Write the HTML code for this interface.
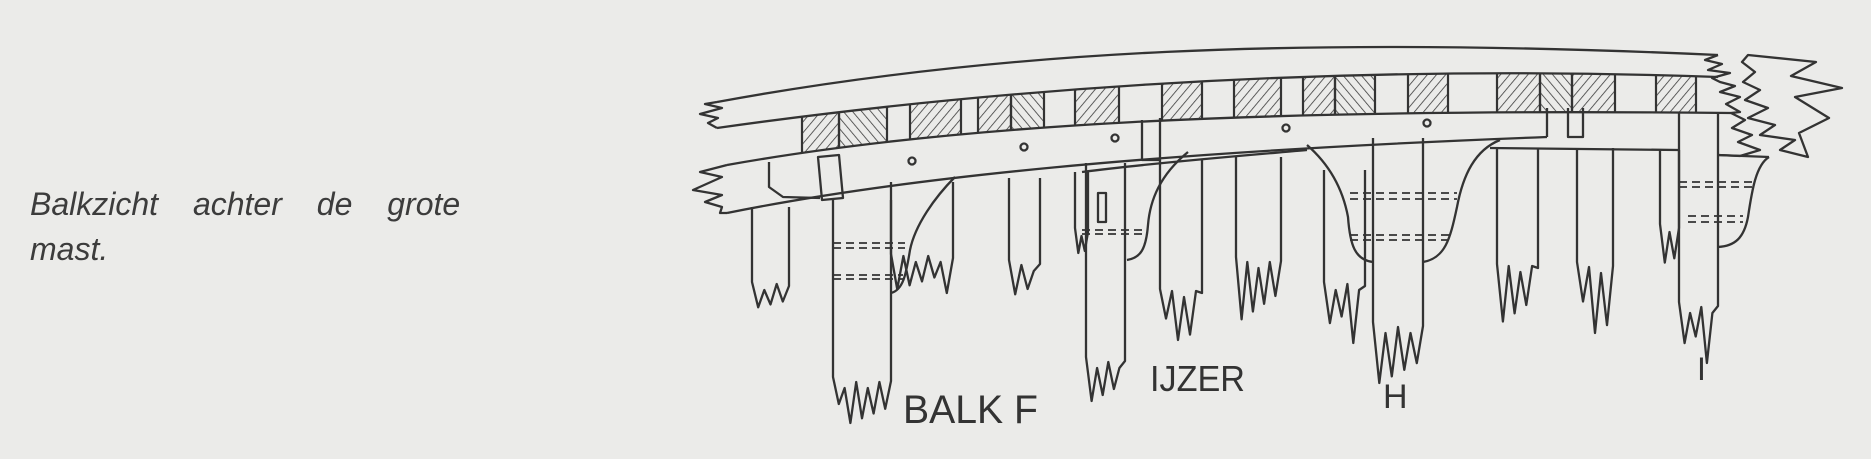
<!DOCTYPE html>
<html><head><meta charset="utf-8">
<style>
html,body{margin:0;padding:0;background:#ebebe9;}
svg{display:block;}
</style></head>
<body>
<svg id="s" width="1871" height="459" viewBox="0 0 1871 459" xmlns="http://www.w3.org/2000/svg">
<defs>
<pattern id="hf" patternUnits="userSpaceOnUse" width="7" height="7" patternTransform="rotate(40)">
<line x1="0" y1="0" x2="0" y2="7" stroke="#3a3a3a" stroke-width="1.6"/></pattern>
<pattern id="hb" patternUnits="userSpaceOnUse" width="7" height="7" patternTransform="rotate(-40)">
<line x1="0" y1="0" x2="0" y2="7" stroke="#3a3a3a" stroke-width="1.6"/></pattern>
<clipPath id="band"><path d="M717,128 C950,95 1300,62 1718,77 L1731,113 C1250,108 950,125 727,165 Z"/></clipPath>
</defs>
<rect width="1871" height="459" fill="#ebebe9"/>
<text x="30" y="215" font-family="Liberation Sans, sans-serif" font-style="italic" font-size="32" fill="#3c3c3c" word-spacing="26">Balkzicht achter de grote</text>
<text x="30" y="260" font-family="Liberation Sans, sans-serif" font-style="italic" font-size="32" fill="#3c3c3c">mast.</text>
<g id="blocks" clip-path="url(#band)" stroke="#333" stroke-width="2"></g>
<g id="g" fill="none" stroke="#333" stroke-width="2.3" stroke-linejoin="round">
<path d="M717,102 C1000,50 1300,36 1718,55"/>
<path d="M717,128 C950,95 1300,62 1718,77"/>
<path d="M727,165 C950,125 1250,108 1731,113"/>
<path d="M727,213 C900,178 1150,152 1547,137"/>
<path d="M1082,172 C1150,163 1250,155 1307,150"/>
<path d="M1490,148 L1679,150"/>
<path d="M717,102 L705,104 L722,108 L700,114 L718,118 L708,123 L717,128"/>
<path d="M727,165 L700,172 L722,177 L693,190 L722,195 L705,202 L722,207 L720,213 L727,213"/>
<path d="M769,162 L769,187 L783,197 L820,198"/>
<path d="M818,157 L839,155 L843,198 L822,200 Z"/>
<path d="M1142,120 L1142,160 L1160,160 L1160,118"/>
<path d="M1547,108 L1547,137 M1568,108 L1568,137 L1583,137 L1583,108"/>
<rect x="1098" y="193" width="8" height="29"/>
<circle cx="912" cy="161" r="3.5"/><circle cx="1024" cy="147" r="3.5"/><circle cx="1115" cy="138" r="3.5"/>
<circle cx="1286" cy="128" r="3.5"/><circle cx="1427" cy="123" r="3.5"/>
<path d="M955,177 C935,197 915,225 910,250 C906,275 903,290 891,293"/>
<path d="M1188,152 C1160,175 1150,200 1148,225 C1146,250 1140,258 1127,260"/>
<path d="M1307,145 C1330,165 1343,190 1348,217 C1350,245 1355,260 1373,262"/>
<path d="M1423,262 C1445,258 1450,240 1457,207 C1463,175 1475,150 1500,140"/>
<path d="M1769,157 C1756,165 1752,190 1748,217 C1744,238 1735,246 1718,247"/>
<path d="M1718,155 L1769,157"/>
<g stroke-dasharray="8,5" stroke-width="1.8">
<path d="M833,243 H905 M833,248 H905 M833,275 H903 M833,279 H903"/>
<path d="M1082,230 H1142 M1082,234 H1142"/>
<path d="M1350,193 H1457 M1350,199 H1457 M1350,235 H1450 M1350,240 H1450"/>
<path d="M1679,182 H1756 M1679,187 H1756 M1688,216 H1743 M1688,222 H1743"/>
</g>
<path d="M1718,55 L1705,60 L1722,64 L1708,70 L1730,73 L1712,78 L1720,82 L1735,86 L1720,92 L1740,97 L1726,104 L1740,112 L1731,113"/>
<path d="M1748,55 L1816,62 L1791,76 L1842,88 L1795,97 L1829,118 L1799,133 L1808,157 L1780,150 L1795,140 L1760,135 L1775,125 L1748,118 L1768,108 L1745,100 L1760,90 L1743,82 L1755,72 L1742,62 Z"/>
<path d="M1731,113 L1745,120 L1732,128 L1752,135 L1738,142 L1760,150 L1740,156 L1718,155"/>
</g>
<g font-family="Liberation Sans, sans-serif" font-size="40" fill="#333">
<text x="903" y="423" textLength="135" lengthAdjust="spacingAndGlyphs">BALK F</text>
<text x="1150" y="391" font-size="36" textLength="95" lengthAdjust="spacingAndGlyphs">IJZER</text>
<text x="1383" y="408" font-size="34">H</text>
<text x="1697" y="380" font-size="32">I</text>
</g>
</svg>
<script>
(function(){
var NS="http://www.w3.org/2000/svg";
var blocks=[[802,839,'hf'],[839,887,'hb'],[910,961,'hf'],[978,1011,'hf'],[1011,1044,'hb'],[1075,1119,'hf'],[1162,1202,'hf'],
[1234,1281,'hf'],[1303,1335,'hf'],[1335,1375,'hb'],[1408,1448,'hf'],[1497,1540,'hf'],[1540,1572,'hb'],[1572,1615,'hf'],[1656,1696,'hf']];
var bg=document.getElementById('blocks');
blocks.forEach(function(b){
 var r=document.createElementNS(NS,'rect');
 r.setAttribute('x',b[0]);r.setAttribute('y',40);r.setAttribute('width',b[1]-b[0]);r.setAttribute('height',160);
 r.setAttribute('fill','url(#'+b[2]+')');r.setAttribute('stroke','#333');r.setAttribute('stroke-width','2.2');
 bg.appendChild(r);
});
var g=document.getElementById('g');
var posts=[[752,789,207,290,313],[833,891,200,385,423],[891,953,182,262,293],[1009,1040,178,268,310],[1075,1088,172,236,253],
[1086,1125,163,365,413],[1160,1202,160,297,340],[1236,1281,157,265,327],[1324,1365,170,290,343],[1373,1423,138,330,383],
[1497,1538,148,272,338],[1577,1613,148,270,333],[1660,1679,150,232,267],[1679,1718,113,310,363]];
posts.forEach(function(p,i){
 var xl=p[0],xr=p[1],t=p[2],b=p[3],d=p[4];
 var w=xr-xl,n=Math.max(4,Math.round(w/6));
 var s="M"+xl+","+t+" L"+xl+","+(b-8);
 for(var k=1;k<n;k++){
  var x=xl+w*k/n, y;
  if(k%2==1) y=b+(d-b)*(0.5+0.5*((k*7+i*3)%5)/4); else y=b-6+((k*3+i)%4)*3;
  s+=" L"+x.toFixed(1)+","+y.toFixed(1);
 }
 s+=" L"+xr+","+(b-4)+" L"+xr+","+t;
 var pa=document.createElementNS(NS,'path');pa.setAttribute('d',s);g.appendChild(pa);
});
})();
</script>
</body></html>
